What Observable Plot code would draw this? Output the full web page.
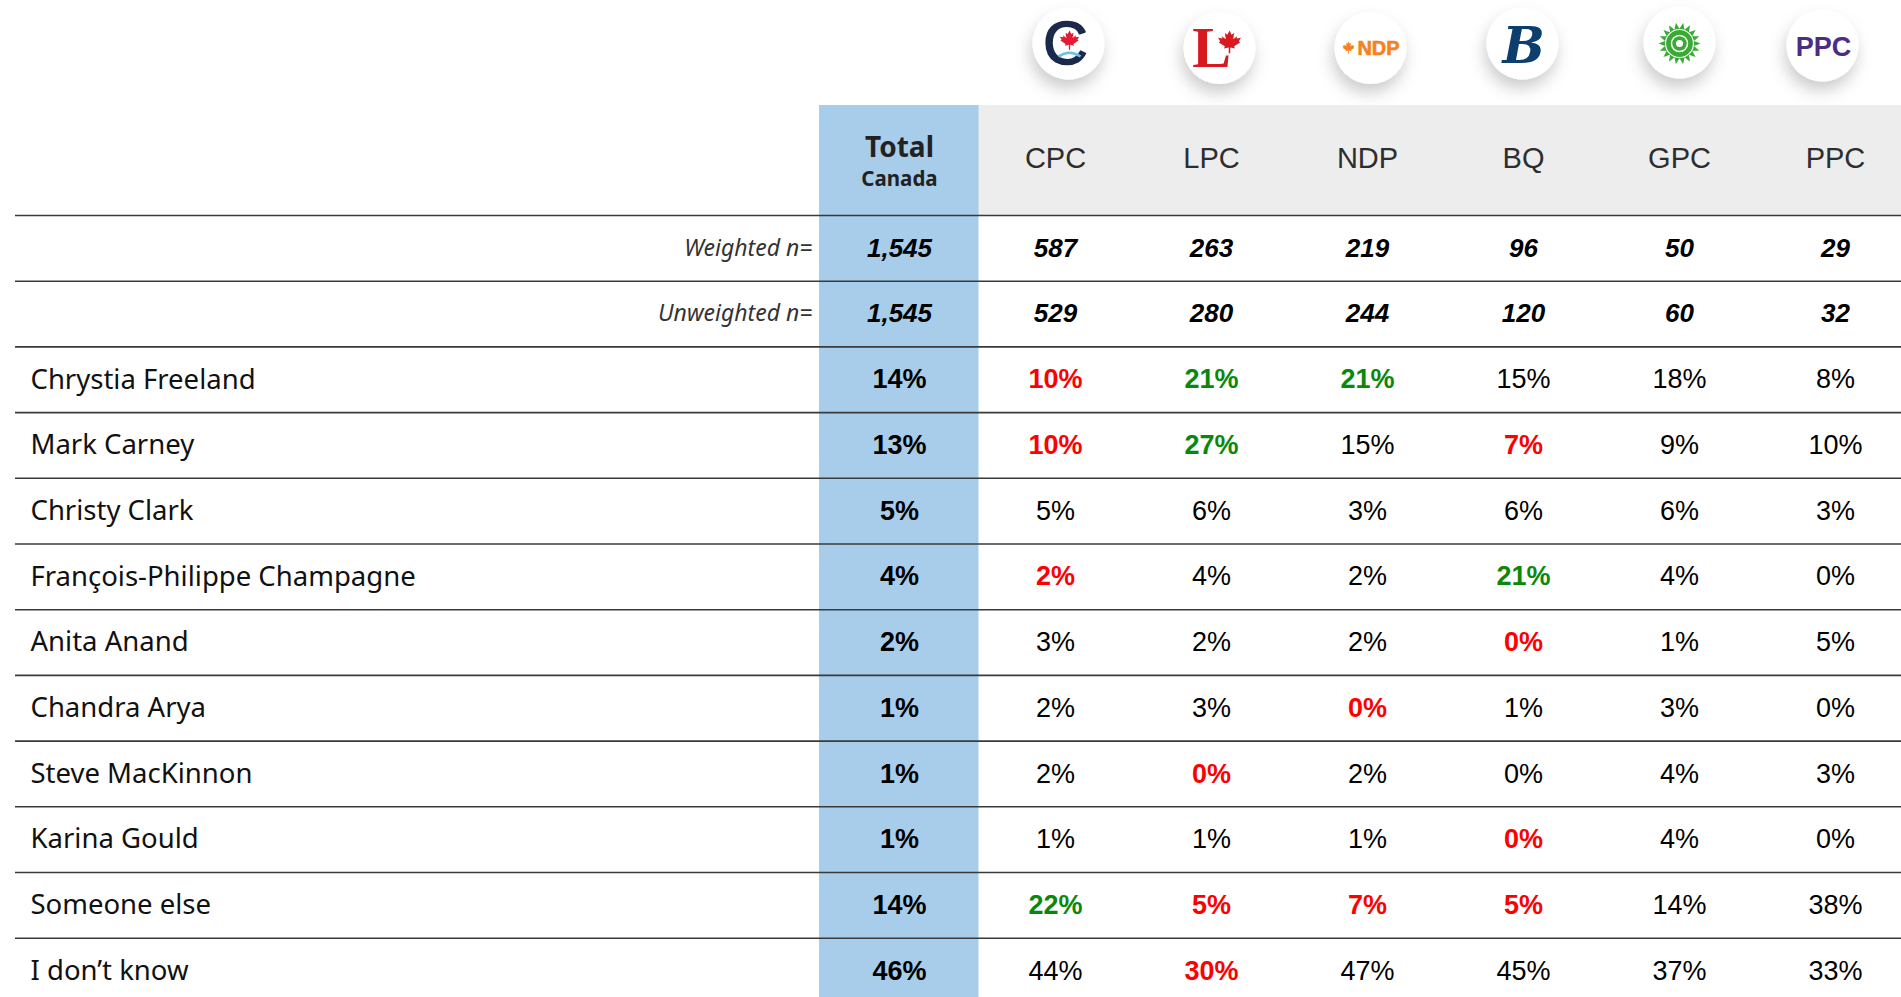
<!DOCTYPE html>
<html>
<head>
<meta charset="utf-8">
<script src="https://cdn.jsdelivr.net/npm/d3@7"></script>
<script src="https://cdn.jsdelivr.net/npm/@observablehq/plot@0.6"></script>
<style>
  html, body { margin: 0; padding: 0; background: #fff; overflow: hidden; }
  #chart svg { display: block; }
</style>
</head>
<body>
<div id="chart"></div>
<script>
// ---------------- data ----------------
const columns = ["Total", "CPC", "LPC", "NDP", "BQ", "GPC", "PPC"];
const parties = ["CPC", "LPC", "NDP", "BQ", "GPC", "PPC"];
const sampleLabels = ["Weighted n=", "Unweighted n="];
const weightedN   = [1545, 587, 263, 219, 96, 50, 29];
const unweightedN = [1545, 529, 280, 244, 120, 60, 32];

const candidates = [
  "Chrystia Freeland", "Mark Carney", "Christy Clark", "François-Philippe Champagne",
  "Anita Anand", "Chandra Arya", "Steve MacKinnon", "Karina Gould",
  "Someone else", "I don\u2019t know"
];
const totalPct = [14, 13, 5, 4, 2, 1, 1, 1, 14, 46];
const cpcPct   = [10, 10, 5, 2, 3, 2, 2, 1, 22, 44];
const lpcPct   = [21, 27, 6, 4, 2, 3, 0, 1, 5, 30];
const ndpPct   = [21, 15, 3, 2, 2, 0, 2, 1, 7, 47];
const bqPct    = [15, 7, 6, 21, 0, 1, 0, 0, 5, 45];
const gpcPct   = [18, 9, 6, 4, 1, 3, 4, 4, 14, 37];
const ppcPct   = [8, 10, 3, 0, 5, 0, 3, 0, 38, 33];

// significance vs total: "hi" = significantly higher, "lo" = significantly lower
const cpcSig = ["lo", "lo", "", "lo", "", "", "", "", "hi", ""];
const lpcSig = ["hi", "hi", "", "", "", "", "lo", "", "lo", "lo"];
const ndpSig = ["hi", "", "", "", "", "lo", "", "", "lo", ""];
const bqSig  = ["", "lo", "", "hi", "lo", "", "", "lo", "lo", ""];
const gpcSig = ["", "", "", "", "", "", "", "", "", ""];
const ppcSig = ["", "", "", "", "", "", "", "", "", ""];

// ---------------- tables built from arrays ----------------
const partyPct = {CPC: cpcPct, LPC: lpcPct, NDP: ndpPct, BQ: bqPct, GPC: gpcPct, PPC: ppcPct};
const partySig = {CPC: cpcSig, LPC: lpcSig, NDP: ndpSig, BQ: bqSig, GPC: gpcSig, PPC: ppcSig};

const nCells = [];
columns.forEach((c, j) => {
  nCells.push({col: c, row: 0, text: d3.format(",")(weightedN[j])});
  nCells.push({col: c, row: 1, text: d3.format(",")(unweightedN[j])});
});
const totalCells = totalPct.map((v, i) => ({col: "Total", row: i + 2, text: v + "%"}));
const partyCells = [];
parties.forEach(p => partyPct[p].forEach((v, i) =>
  partyCells.push({col: p, row: i + 2, text: v + "%", sig: partySig[p][i]})));
const rowCount = sampleLabels.length + candidates.length;

// ---------------- layout (pixels -> row units) ----------------
const W = 1901, H = 997;
const rowTopPx = 215, rowH = 65.7;
const toRow = px => (px - rowTopPx) / rowH;
const headerTop = toRow(105);
const logoY = toRow(45);

// decorative logo glyphs
const leafPts = [[0,-1],[0.16,-0.68],[0.36,-0.8],[0.28,-0.32],[0.6,-0.56],[0.55,-0.38],[0.88,-0.44],[0.72,-0.18],[0.82,-0.08],[0.36,0.22],[0.42,0.38],[0.06,0.3],[0.06,0.75],[-0.06,0.75],[-0.06,0.3],[-0.42,0.38],[-0.36,0.22],[-0.82,-0.08],[-0.72,-0.18],[-0.88,-0.44],[-0.55,-0.38],[-0.6,-0.56],[-0.28,-0.32],[-0.36,-0.8],[-0.16,-0.68]];
const leaf = {
  draw(ctx, size) {
    const r = Math.sqrt(size / Math.PI);
    ctx.moveTo(leafPts[0][0] * r, leafPts[0][1] * r);
    for (const [a, b] of leafPts.slice(1)) ctx.lineTo(a * r, b * r);
    ctx.closePath();
  }
};
const flower = {
  draw(ctx, size) {
    const r = Math.sqrt(size / Math.PI);
    const n = 18;
    for (let k = 0; k <= 2 * n; k++) {
      const a = k * Math.PI / n;
      const rr = k % 2 === 0 ? r : r * 0.7;
      const px = rr * Math.cos(a), py = rr * Math.sin(a);
      if (k === 0) ctx.moveTo(px, py); else ctx.lineTo(px, py);
    }
    ctx.closePath();
  }
};
const smile = {
  draw(ctx, size) {
    const r = Math.sqrt(size / Math.PI);
    ctx.moveTo(-r, 0);
    ctx.quadraticCurveTo(0, -r * 0.7, r, 0);
  }
};

const sans = "'Noto Sans', 'Open Sans', sans-serif";
const arial = "'Liberation Sans', Arial, sans-serif";
const one = k => [k];
const disc = (p, dx, dy) => Plot.dot(one(p), {x: d => d, y: logoY, r: 36, fill: "#fff", dx, dy});

const plot = Plot.plot({
  width: W, height: H,
  marginTop: 0, marginBottom: 0, marginRight: 0, marginLeft: 15,
  x: {type: "band", domain: columns, range: [819, 819 + 7 * 156.5], padding: 0, axis: null},
  y: {type: "linear", domain: [toRow(0), toRow(H)], range: [0, H], axis: null},
  style: {background: "#fff", overflow: "hidden"},
  marks: [
    // logos: white discs (first six dot marks -> shadow)
    disc("CPC", 13, -2),
    disc("LPC", 8, 2.5),
    disc("NDP", 3, 2.5),
    disc("BQ", -1, -2),
    disc("GPC", 0, -3),
    disc("PPC", -13, 0),

    // header grey band and Total column
    Plot.barY(parties, {x: d => d, y1: headerTop, y2: 0, fill: "#ededed"}),
    Plot.barY(["Total"], {x: d => d, y1: headerTop, y2: rowCount + 1, fill: "#a7cdea", insetLeft: -2, insetRight: -1.5}),
    // row separators
    Plot.ruleY(d3.range(rowCount), {y: d => d, stroke: "#3a3a3a", strokeWidth: 1.6}),

    // CPC
    Plot.text(one("CPC"), {x: d => d, y: logoY, text: () => "C", dx: 10, dy: -1, fontSize: 62, fontFamily: arial, fill: "#1b2a4a", stroke: "#1b2a4a", strokeWidth: 1.6}),
    Plot.dot(one("CPC"), {x: d => d, y: logoY, symbol: leaf, r: 11, fill: "#e31b35", dx: 14, dy: -4}),
    Plot.dot(one("CPC"), {x: d => d, y: logoY, symbol: smile, r: 11, fill: "none", stroke: "#6cc1ea", strokeWidth: 2.5, dx: 14, dy: 11}),
    // LPC
    Plot.text(one("LPC"), {x: d => d, y: logoY, text: () => "L", dx: 0, dy: 3, fontSize: 58, fontWeight: "bold", fontFamily: "'Liberation Serif', serif", fill: "#d71920"}),
    Plot.dot(one("LPC"), {x: d => d, y: logoY, symbol: leaf, r: 13, fill: "#d71920", dx: 18, dy: -2}),
    // NDP
    Plot.dot(one("NDP"), {x: d => d, y: logoY, symbol: leaf, r: 7, fill: "#f58220", dx: -19, dy: 3}),
    Plot.text(one("NDP"), {x: d => d, y: logoY, text: () => "NDP", dx: 11, dy: 3, fontSize: 20, fontWeight: "900", fontFamily: arial, fill: "#f58220", stroke: "#f58220", strokeWidth: 0.6}),
    // BQ
    Plot.text(one("BQ"), {x: d => d, y: logoY, text: () => "B", dx: 0, dy: 1, fontSize: 50, fontWeight: "bold", fontStyle: "italic", fontFamily: "'DejaVu Serif', serif", fill: "#0d3f6e"}),
    // GPC
    Plot.dot(one("GPC"), {x: d => d, y: logoY, symbol: flower, r: 21, fill: "#3aa935", dx: 0, dy: -2}),
    Plot.dot(one("GPC"), {x: d => d, y: logoY, r: 8, fill: "none", stroke: "#fff", strokeWidth: 1.5, dx: 0, dy: -2}),
    Plot.dot(one("GPC"), {x: d => d, y: logoY, r: 14, fill: "none", stroke: "#fff", strokeWidth: 1.2, dx: 0, dy: -2}),
    Plot.dot(one("GPC"), {x: d => d, y: logoY, r: 3.5, fill: "#fff", dx: 0, dy: -2}),
    // PPC
    Plot.text(one("PPC"), {x: d => d, y: logoY, text: () => "PPC", dx: -12, dy: 2, fontSize: 27, fontWeight: "bold", fontFamily: arial, fill: "#4b2d83", letterSpacing: "-1.5px"}),

    // header labels
    Plot.text(parties, {x: d => d, y: toRow(158), text: d => d, fontSize: 29, fontFamily: arial, fill: "#2e2e2e"}),
    Plot.text(["Total"], {x: d => d, y: toRow(148), text: () => "Total", fontSize: 28, fontWeight: "bold", fontFamily: sans, fill: "#222"}),
    Plot.text(["Total"], {x: d => d, y: toRow(179), text: () => "Canada", fontSize: 20.5, fontWeight: "bold", fontFamily: sans, fill: "#222"}),

    // row labels
    Plot.text(sampleLabels, {x: () => "Total", y: (d, i) => i + 0.5, text: d => d, textAnchor: "end", dx: -87, fontSize: 23, fontStyle: "italic", fontFamily: sans, fill: "#333"}),
    Plot.text(candidates, {y: (d, i) => i + 2.5, text: d => d, frameAnchor: "left", textAnchor: "start", dx: 15, fontSize: 27.5, fontFamily: sans, fill: "#111"}),

    // sample sizes
    Plot.text(nCells, {x: "col", y: d => d.row + 0.5, text: "text", fontSize: 26, fontWeight: "bold", fontStyle: "italic", fontFamily: arial, fill: "#000"}),
    // percentages
    Plot.text(totalCells, {x: "col", y: d => d.row + 0.5, text: "text", fontSize: 27, fontWeight: "bold", fontFamily: arial, fill: "#000"}),
    Plot.text(partyCells.filter(d => !d.sig), {x: "col", y: d => d.row + 0.5, text: "text", fontSize: 27, fontFamily: arial, fill: "#000"}),
    Plot.text(partyCells.filter(d => d.sig === "lo"), {x: "col", y: d => d.row + 0.5, text: "text", fontSize: 27, fontWeight: "bold", fontFamily: arial, fill: "#ff0000"}),
    Plot.text(partyCells.filter(d => d.sig === "hi"), {x: "col", y: d => d.row + 0.5, text: "text", fontSize: 27, fontWeight: "bold", fontFamily: arial, fill: "#0a880a"})
  ]
});

// soft drop shadow on the logo discs
const svg = d3.select(plot);
const defs = svg.insert("defs", ":first-child");
const f = defs.append("filter").attr("id", "logoShadow").attr("x", "-60%").attr("y", "-60%").attr("width", "220%").attr("height", "220%");
f.append("feDropShadow").attr("dx", -2).attr("dy", 9).attr("stdDeviation", 8).attr("flood-color", "#000").attr("flood-opacity", 0.2);
svg.selectAll('g[aria-label="dot"]').nodes().slice(0, 6).forEach(n => d3.select(n).attr("filter", "url(#logoShadow)"));

document.getElementById("chart").appendChild(plot);
</script>
</body>
</html>
